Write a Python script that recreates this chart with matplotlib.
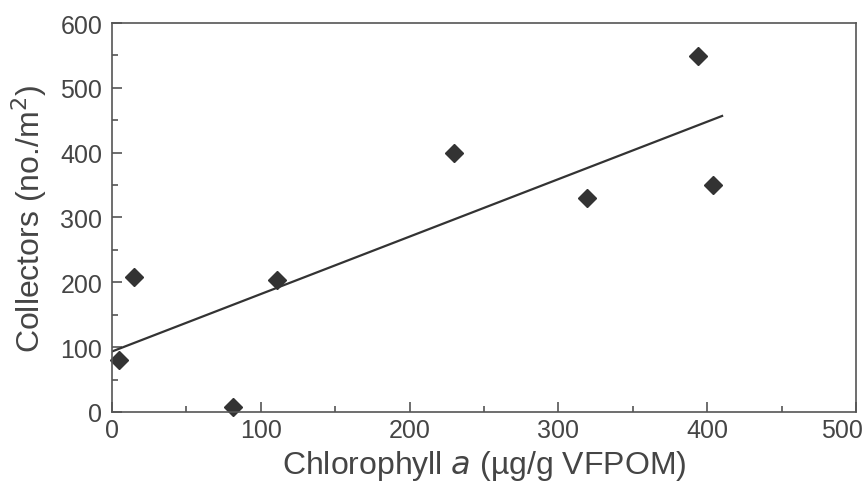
import numpy as np
import matplotlib
matplotlib.use("Agg")
import matplotlib.pyplot as plt
from matplotlib.ticker import MultipleLocator, FuncFormatter

plt.rcParams['font.family'] = ['Liberation Sans', 'DejaVu Sans']

# Chlorophyll a (ug/g VFPOM) vs collectors (no./m2)
chl = [5, 15, 81, 111, 230, 319, 394, 404]
collectors = [80, 208, 8, 203, 400, 330, 549, 350]
fit_x = [0, 410]

text_col = '#454545'
ink = '#333333'

fig = plt.figure(figsize=(8.65, 4.85), dpi=100)
ax = fig.add_axes([0.1295, 0.1485, 0.8601, 0.802])

slope, intercept = np.polyfit(chl, collectors, 1)
ax.plot(fit_x, [intercept + slope * v for v in fit_x], color=ink, lw=1.6)
ax.plot(chl, collectors, 'D', color=ink, ms=9.5, mec=ink, clip_on=False)

ax.set_xlim(0, 500)
ax.set_ylim(0, 600)
ax.xaxis.set_major_locator(MultipleLocator(100))
ax.xaxis.set_minor_locator(MultipleLocator(50))
ax.yaxis.set_major_locator(MultipleLocator(100))
ax.yaxis.set_minor_locator(MultipleLocator(50))
# the last x label is drawn by hand, nudged left so it stays inside the figure
ax.xaxis.set_major_formatter(FuncFormatter(lambda v, p: '' if v >= 500 else f'{v:.0f}'))
ax.annotate('500', xy=(500, 0), xycoords=('data', 'axes fraction'),
            xytext=(-10, -4.5), textcoords='offset points',
            ha='center', va='top', fontsize=18, color=text_col)

ax.tick_params(which='both', direction='in', colors='#555555', labelcolor=text_col,
               labelsize=18, width=1.2, top=False, right=False)
ax.tick_params(which='major', length=7)
ax.tick_params(which='minor', length=4)
ax.tick_params(axis='x', pad=4.5)
ax.tick_params(axis='y', pad=7)
for s in ax.spines.values():
    s.set_color('#555555')
    s.set_linewidth(1.2)

ax.set_xlabel(r'Chlorophyll $\it{a}$ (µg/g VFPOM)', fontsize=23, color=text_col, labelpad=4)
ax.set_ylabel(r'Collectors (no./m$^2$)', fontsize=23, color=text_col, labelpad=8)

fig.savefig('out.png', dpi=100)
